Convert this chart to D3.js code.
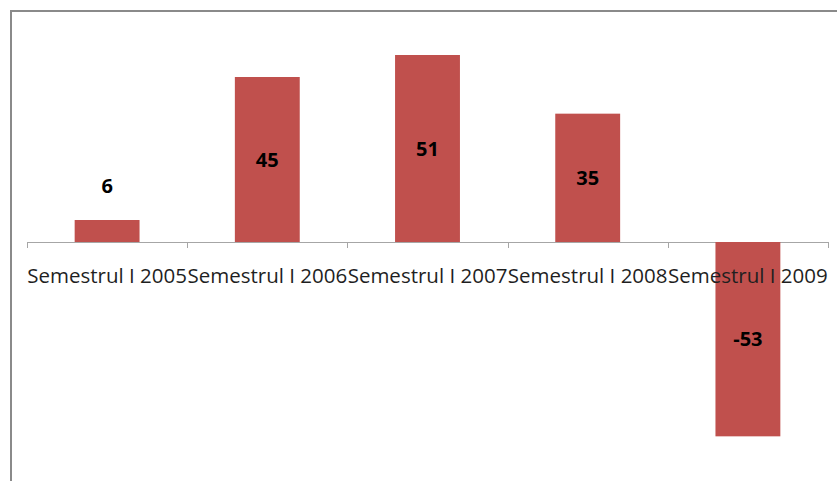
<!DOCTYPE html>
<html>
<head>
<meta charset="utf-8">
<script src="https://cdn.jsdelivr.net/npm/d3@7"></script>
<style>
  body { margin: 0; background: #fff; }
  svg { display: block; }
</style>
</head>
<body>
<svg id="chart" width="837" height="481"></svg>
<script>
// date
var categories = ['Semestrul I 2005', 'Semestrul I 2006', 'Semestrul I 2007', 'Semestrul I 2008', 'Semestrul I 2009'];
var values = [6, 45, 51, 35, -53];

var svg = d3.select('#chart'),
    w = +svg.attr('width'),
    h = +svg.attr('height');

// chenar (sus + stanga)
svg.append('line').attr('x1', 11).attr('x2', w).attr('y1', 11).attr('y2', 11)
  .attr('stroke', '#8a8a8a').attr('stroke-width', 2);
svg.append('line').attr('x1', 11).attr('x2', 11).attr('y1', 10).attr('y2', h)
  .attr('stroke', '#8a8a8a').attr('stroke-width', 2);

var x = d3.scaleBand()
  .domain(categories)
  .range([27, 828])
  .padding(0);

var y = d3.scaleLinear()
  .domain([-60, 60])
  .range([462, 22]);

var barW = x.bandwidth() * 0.405;

// axa orizontala
var ax = svg.append('g').attr('class', 'axis');
ax.append('line')
  .attr('x1', x.range()[0]).attr('x2', x.range()[1])
  .attr('y1', y(0) + 0.5).attr('y2', y(0) + 0.5)
  .attr('stroke', '#a6a6a6').attr('stroke-width', 1);
var edges = categories.map(function(d) { return x(d); }).concat([x.range()[1]]);
ax.selectAll('.tick')
  .data(edges)
  .enter().append('line')
  .attr('x1', function(d) { return Math.round(d) + 0.5; })
  .attr('x2', function(d) { return Math.round(d) + 0.5; })
  .attr('y1', y(0)).attr('y2', y(0) + 6)
  .attr('stroke', '#a6a6a6');

// bare
svg.selectAll('.bar')
  .data(values)
  .enter().append('rect')
  .attr('class', 'bar')
  .attr('x', function(d, i) { return x(categories[i]) + (x.bandwidth() - barW) / 2; })
  .attr('y', function(d) { return y(Math.max(0, d)); })
  .attr('width', barW)
  .attr('height', function(d) { return Math.abs(y(d) - y(0)); })
  .attr('fill', '#c0504d');

// etichete categorii
svg.selectAll('.cat')
  .data(categories)
  .enter().append('text')
  .attr('class', 'cat')
  .attr('x', function(d) { return x(d) + x.bandwidth() / 2; })
  .attr('y', 283)
  .attr('text-anchor', 'middle')
  .attr('font-family', 'Open Sans, sans-serif')
  .attr('font-size', '20.5px')
  .attr('fill', '#1f1f1f')
  .text(function(d) { return d; });

// etichete valori
svg.selectAll('.val')
  .data(values)
  .enter().append('text')
  .attr('class', 'val')
  .attr('x', function(d, i) { return x(categories[i]) + x.bandwidth() / 2; })
  .attr('y', function(d) {
    var hgt = Math.abs(y(d) - y(0));
    if (hgt < 30) return y(d) - 27;
    return (y(d) + y(0)) / 2 + 7;
  })
  .attr('text-anchor', 'middle')
  .attr('font-family', 'Open Sans, sans-serif')
  .attr('font-weight', 'bold')
  .attr('font-size', '20px')
  .attr('fill', '#000')
  .text(function(d) { return d; });
</script>
</body>
</html>
